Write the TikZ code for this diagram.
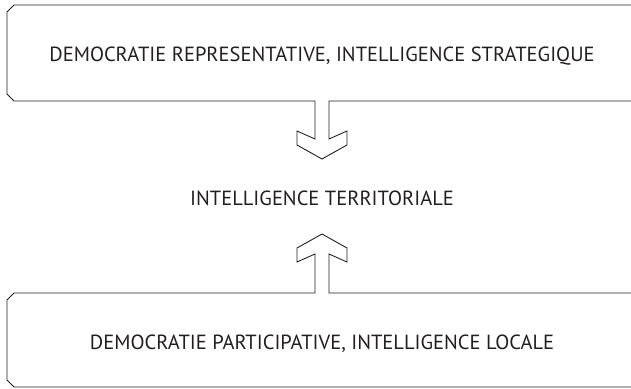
\documentclass[tikz,border=0pt]{standalone}
\usepackage{fontspec}
\setmainfont{PT Sans}
\usetikzlibrary{positioning}

\begin{document}
\begin{tikzpicture}[x=1pt, y=-1pt,
        label text/.style={text=inkgray, font=\fontsize{20.5}{24}\selectfont, inner sep=0pt, anchor=base},
        outline/.style={draw=inkgray, line width=0.9pt, line join=miter}]
        \definecolor{inkgray}{RGB}{35,31,32}
        \useasboundingbox (0,0) rectangle (631,388);

        % Upper level with arrow pointing down
        \node[label text] (strat) at (322,61.5) {DEMOCRATIE REPRESENTATIVE, INTELLIGENCE STRATEGIQUE};
        \draw[outline] (315,101) -- (14,101) -- (7,94) -- (7,12) -- (14,5) -- (636,5) -- (636,101) -- (329,101)
                -- (329,139) -- (347,131) -- (347,145) -- (322,159) -- (297,145) -- (297,131) -- (315,139) -- cycle;

        % Middle level
        \node[label text, below=143.5pt of strat.base, anchor=base] (terr) {INTELLIGENCE TERRITORIALE};

        % Lower level with arrow pointing up
        \node[label text] (local) at (322,349) {DEMOCRATIE PARTICIPATIVE, INTELLIGENCE LOCALE};
        \draw[outline] (315,293) -- (14,293) -- (7,300) -- (7,380) -- (14,387) -- (636,387) -- (636,293) -- (329,293)
                -- (329,254) -- (347,262) -- (347,248) -- (322,234) -- (297,248) -- (297,262) -- (315,254) -- cycle;
\end{tikzpicture}
\end{document}
